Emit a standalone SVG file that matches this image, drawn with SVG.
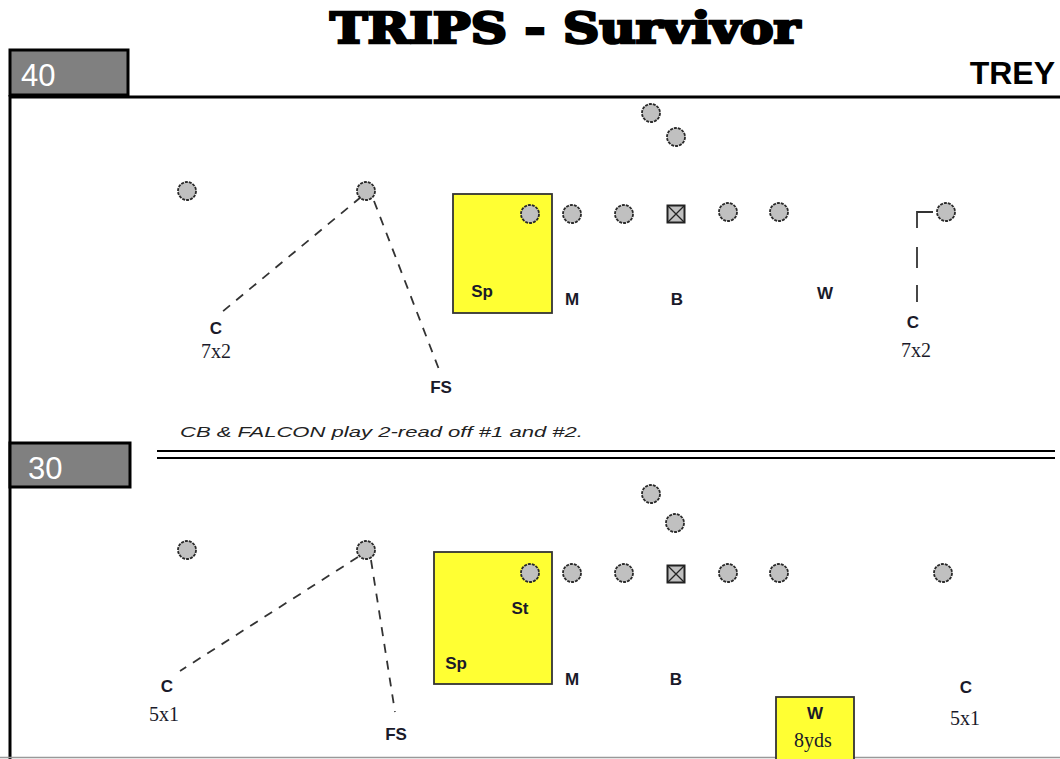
<svg xmlns="http://www.w3.org/2000/svg" width="1060" height="759" viewBox="0 0 1060 759">
<defs>
<style>
.pl{fill:#c0c0c0;stroke:#2a2a2a;stroke-width:1.8;stroke-dasharray:3 1}
.zone{fill:#ffff33;stroke:#333;stroke-width:1.8}
.lbl{font-family:"Liberation Sans",Arial,sans-serif;font-weight:bold;font-size:17px;fill:#1a1a2a;text-anchor:middle}
.ser{font-family:"Liberation Serif","Times New Roman",serif;font-size:20px;fill:#1a1a2a;text-anchor:middle}
.rt{fill:none;stroke:#333;stroke-width:1.8;stroke-dasharray:9 8}
.sl{fill:none;stroke:#333;stroke-width:1.8}
.num{fill:#808080;stroke:#000;stroke-width:3}
.numt{font-family:"Liberation Sans",Arial,sans-serif;font-size:31px;fill:#fff}
</style>
</defs>
<rect width="1060" height="759" fill="#fff"/>
<text x="565" y="43" text-anchor="middle" font-family="'DejaVu Serif',serif" font-weight="bold" font-size="42" textLength="470" lengthAdjust="spacingAndGlyphs" fill="#000" stroke="#000" stroke-width="2.600">TRIPS - Survivor</text>
<g id="frame">
<line x1="10" y1="97" x2="1060" y2="97" stroke="#000" stroke-width="3"/>
<line x1="10" y1="95" x2="10" y2="759" stroke="#000" stroke-width="3"/>
<line x1="157" y1="451" x2="1055" y2="451" stroke="#000" stroke-width="2"/>
<line x1="157" y1="458" x2="1055" y2="458" stroke="#000" stroke-width="2"/>
<line x1="0" y1="757.500" x2="1060" y2="757.500" stroke="#999" stroke-width="1.500"/>
</g>
<g id="box40"><rect class="num" x="10" y="50" width="118" height="45"/><text class="numt" x="21" y="86">40</text></g>
<g id="box30"><rect class="num" x="10" y="443" width="120" height="44"/><text class="numt" x="28" y="479">30</text></g>
<text x="1055" y="84" text-anchor="end" font-family="'Liberation Sans',Arial,sans-serif" font-weight="bold" font-size="32" fill="#000">TREY</text>
<text x="180" y="437" font-family="'Liberation Sans',Arial,sans-serif" font-style="italic" font-size="14" fill="#222" textLength="403" lengthAdjust="spacingAndGlyphs">CB &amp; FALCON play 2-read off #1 and #2.</text>

<g id="connectors">
<path class="rt" d="M361 197 L222 312"/>
<path class="rt" d="M374 201 L440 372"/>
<path class="sl" d="M933 212 L917 212 L917 228 M917 247 L917 268 M917 285 L917 302"/>
<path class="rt" d="M358 557 L180 671"/>
<path class="rt" d="M371 560 L395 712"/>
</g>

<g id="top">
<g id="t-zone-sp"><rect class="zone" x="453" y="194" width="99" height="119"/><text class="lbl" x="482" y="297">Sp</text></g>
<g id="t-p1"><circle class="pl" cx="187" cy="191" r="9"/></g>
<g id="t-p2"><circle class="pl" cx="366" cy="191" r="9"/></g>
<g id="t-p3"><circle class="pl" cx="651" cy="113" r="9"/></g>
<g id="t-p4"><circle class="pl" cx="676" cy="137" r="9"/></g>
<g id="t-p5"><circle class="pl" cx="530" cy="214" r="9"/></g>
<g id="t-p6"><circle class="pl" cx="572" cy="214" r="9"/></g>
<g id="t-p7"><circle class="pl" cx="624" cy="214" r="9"/></g>
<g id="t-ctr"><rect x="667.500" y="205.500" width="17" height="17" fill="#c0c0c0" stroke="#222" stroke-width="2"/><path d="M668 206 L684 222 M684 206 L668 222" stroke="#222" stroke-width="1.300"/></g>
<g id="t-p8"><circle class="pl" cx="728" cy="212" r="9"/></g>
<g id="t-p9"><circle class="pl" cx="779" cy="212" r="9"/></g>
<g id="t-p10"><circle class="pl" cx="946" cy="212" r="9"/></g>
<text class="lbl" x="572" y="305">M</text>
<text class="lbl" x="677" y="305">B</text>
<text class="lbl" x="825" y="299">W</text>
<text class="lbl" x="216" y="334">C</text>
<text class="ser" x="216" y="358">7x2</text>
<text class="lbl" x="441" y="393">FS</text>
<text class="lbl" x="913" y="328">C</text>
<text class="ser" x="916" y="357">7x2</text>
</g>

<g id="bottom">
<g id="b-zone-sp"><rect class="zone" x="434" y="552" width="118" height="132"/><text class="lbl" x="456" y="669">Sp</text><text class="lbl" x="520" y="614">St</text></g>
<g id="b-zone-w"><rect class="zone" x="776" y="697" width="78" height="70"/><text class="lbl" x="815" y="719">W</text><text class="ser" x="813" y="747">8yds</text></g>
<g id="b-p1"><circle class="pl" cx="187" cy="550" r="9"/></g>
<g id="b-p2"><circle class="pl" cx="366" cy="550" r="9"/></g>
<g id="b-p3"><circle class="pl" cx="651" cy="494" r="9"/></g>
<g id="b-p4"><circle class="pl" cx="675" cy="523" r="9"/></g>
<g id="b-p5"><circle class="pl" cx="530" cy="573" r="9"/></g>
<g id="b-p6"><circle class="pl" cx="572" cy="573" r="9"/></g>
<g id="b-p7"><circle class="pl" cx="624" cy="573" r="9"/></g>
<g id="b-ctr"><rect x="667.500" y="565.500" width="17" height="17" fill="#c0c0c0" stroke="#222" stroke-width="2"/><path d="M668 566 L684 582 M684 566 L668 582" stroke="#222" stroke-width="1.300"/></g>
<g id="b-p8"><circle class="pl" cx="728" cy="573" r="9"/></g>
<g id="b-p9"><circle class="pl" cx="779" cy="573" r="9"/></g>
<g id="b-p10"><circle class="pl" cx="943" cy="573" r="9"/></g>
<text class="lbl" x="572" y="685">M</text>
<text class="lbl" x="676" y="685">B</text>
<text class="lbl" x="167" y="692">C</text>
<text class="ser" x="164" y="721">5x1</text>
<text class="lbl" x="396" y="740">FS</text>
<text class="lbl" x="966" y="693">C</text>
<text class="ser" x="965" y="725">5x1</text>
</g>
</svg>
